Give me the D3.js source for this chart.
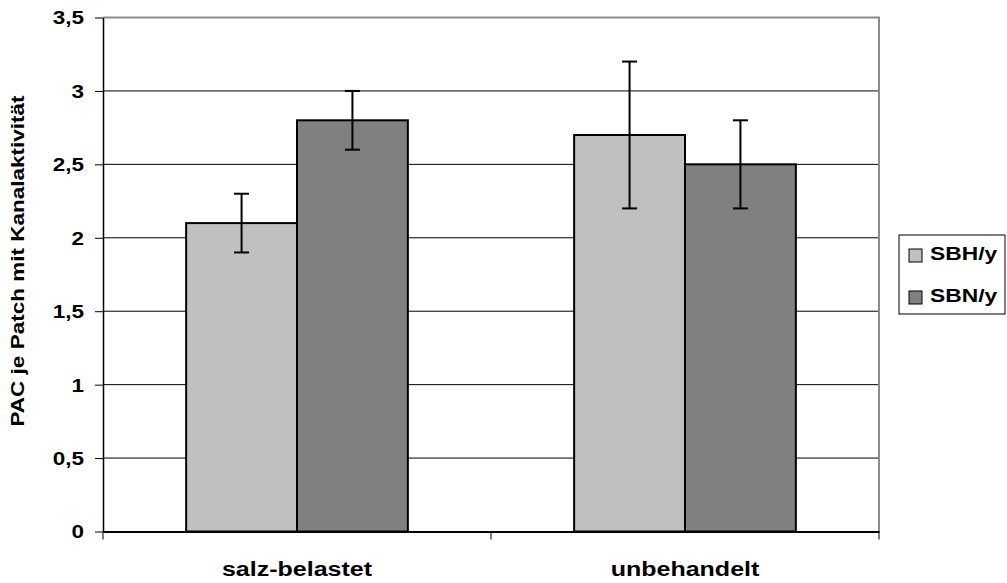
<!DOCTYPE html>
<html>
<head>
<meta charset="utf-8">
<script src="https://cdn.jsdelivr.net/npm/d3@7"></script>
<style>
  body { margin: 0; background: #fff; }
  text { font-family: "Liberation Sans", Arial, sans-serif; font-weight: bold; fill: #000; }
</style>
</head>
<body>
<svg width="1007" height="583"></svg>
<script>
const categories = ["salz-belastet", "unbehandelt"];
const seriesNames = ["SBH/y", "SBN/y"];
const sbhValues = [2.1, 2.7];
const sbnValues = [2.8, 2.5];
const sbhErrors = [0.2, 0.5];
const sbnErrors = [0.2, 0.3];
const yTicks = [0, 0.5, 1, 1.5, 2, 2.5, 3, 3.5];
const colors = ["#c0c0c0", "#808080"];

const svg = d3.select("svg");
const margin = { top: 17.5, left: 103, right: 128, bottom: 51.5 };
const width = +svg.attr("width");
const height = +svg.attr("height");
const innerWidth = width - margin.left - margin.right;
const innerHeight = height - margin.top - margin.bottom;

// the original text is drawn wider than normal Arial
const stretch = (sel, k = 1.25) =>
  sel.each(function () {
    const len = this.getComputedTextLength();
    d3.select(this).attr("textLength", len * k).attr("lengthAdjust", "spacingAndGlyphs");
  });

const g = svg.append("g")
  .attr("transform", `translate(${margin.left}, ${margin.top})`);

const xScale = d3.scaleBand().domain(categories).range([0, innerWidth]);
// bars fill 2 of 3.5 parts of each category (gap width 150%)
const barW = xScale.bandwidth() / 3.5;
const yScale = d3.scaleLinear().domain([0, 3.5]).range([innerHeight, 0]);

const rows = [];
categories.forEach((c, i) => {
  rows.push({ cat: c, s: 0, v: sbhValues[i], e: sbhErrors[i] });
  rows.push({ cat: c, s: 1, v: sbnValues[i], e: sbnErrors[i] });
});
const barX = (d) => xScale(d.cat) + xScale.bandwidth() / 2 + (d.s - 1) * barW;

// gridlines
g.selectAll(".grid")
  .data(yTicks.filter((t) => t > 0 && t < 3.5))
  .join("line")
  .attr("x1", 0).attr("x2", innerWidth)
  .attr("y1", (d) => yScale(d)).attr("y2", (d) => yScale(d))
  .attr("stroke", "#000").attr("stroke-width", 1);

// plot border top/right
g.append("path")
  .attr("d", `M0,${yScale(3.5)}H${innerWidth}V${innerHeight}`)
  .attr("fill", "none").attr("stroke", "#8c8c8c").attr("stroke-width", 2);

// bars
g.selectAll(".bar")
  .data(rows)
  .join("rect")
  .attr("x", barX)
  .attr("y", (d) => yScale(d.v))
  .attr("width", barW)
  .attr("height", (d) => innerHeight - yScale(d.v))
  .attr("fill", (d) => colors[d.s])
  .attr("stroke", "#000").attr("stroke-width", 2);

// error bars
const err = g.selectAll(".err").data(rows).join("g")
  .attr("transform", (d) => `translate(${barX(d) + barW / 2}, 0)`);
err.append("line")
  .attr("y1", (d) => yScale(d.v + d.e)).attr("y2", (d) => yScale(d.v - d.e))
  .attr("stroke", "#000").attr("stroke-width", 2);
err.selectAll(".cap").data((d) => [d.v + d.e, d.v - d.e]).join("line")
  .attr("x1", -7.5).attr("x2", 7.5)
  .attr("y1", (d) => yScale(d)).attr("y2", (d) => yScale(d))
  .attr("stroke", "#000").attr("stroke-width", 2);

// y axis
const yAxis = d3.axisLeft(yScale).tickValues(yTicks).tickSize(8).tickSizeOuter(0)
  .tickFormat((d) => String(d).replace(".", ","));
const ya = g.append("g").call(yAxis);
ya.select(".domain").attr("stroke", "#000").attr("stroke-width", 1.5);
ya.selectAll(".tick line").attr("stroke", "#000");
ya.selectAll(".tick text")
  .attr("x", -19).attr("dy", "0.36em")
  .style("font-size", "18px").style("font-family", null)
  .call(stretch);

// x axis
const xa = g.append("g").attr("transform", `translate(0, ${innerHeight})`)
  .call(d3.axisBottom(xScale).tickSize(0).tickSizeOuter(0));
xa.select(".domain").attr("stroke", "#000").attr("stroke-width", 2);
xa.selectAll(".tick line").remove();
xa.selectAll(".tick text")
  .attr("y", 44).attr("dy", null)
  .style("font-size", "20px").style("font-family", null)
  .call(stretch);
xa.selectAll(".bound")
  .data([0, ...categories.map((c) => xScale(c) + xScale.bandwidth())])
  .join("line")
  .attr("x1", (d) => d).attr("x2", (d) => d)
  .attr("y1", 0).attr("y2", 8)
  .attr("stroke", "#000");

// y label
svg.append("text")
  .attr("transform", "translate(24, 261) rotate(-90)")
  .attr("text-anchor", "middle")
  .style("font-size", "18px")
  .text("PAC je Patch mit Kanalaktivität")
  .call(stretch);

// legend
const lg = svg.append("g").attr("transform", "translate(899, 235)");
lg.append("rect").attr("width", 106).attr("height", 79)
  .attr("fill", "#fff").attr("stroke", "#000").attr("stroke-width", 1);
const item = lg.selectAll(".item").data(seriesNames).join("g")
  .attr("transform", (d, i) => `translate(10, ${14 + i * 42})`);
item.append("rect").attr("width", 13).attr("height", 13)
  .attr("fill", (d, i) => colors[i]).attr("stroke", "#000");
item.append("text")
  .attr("x", 21).attr("y", 11)
  .style("font-size", "19px")
  .text((d) => d)
  .call(stretch, 1.2);
</script>
</body>
</html>
